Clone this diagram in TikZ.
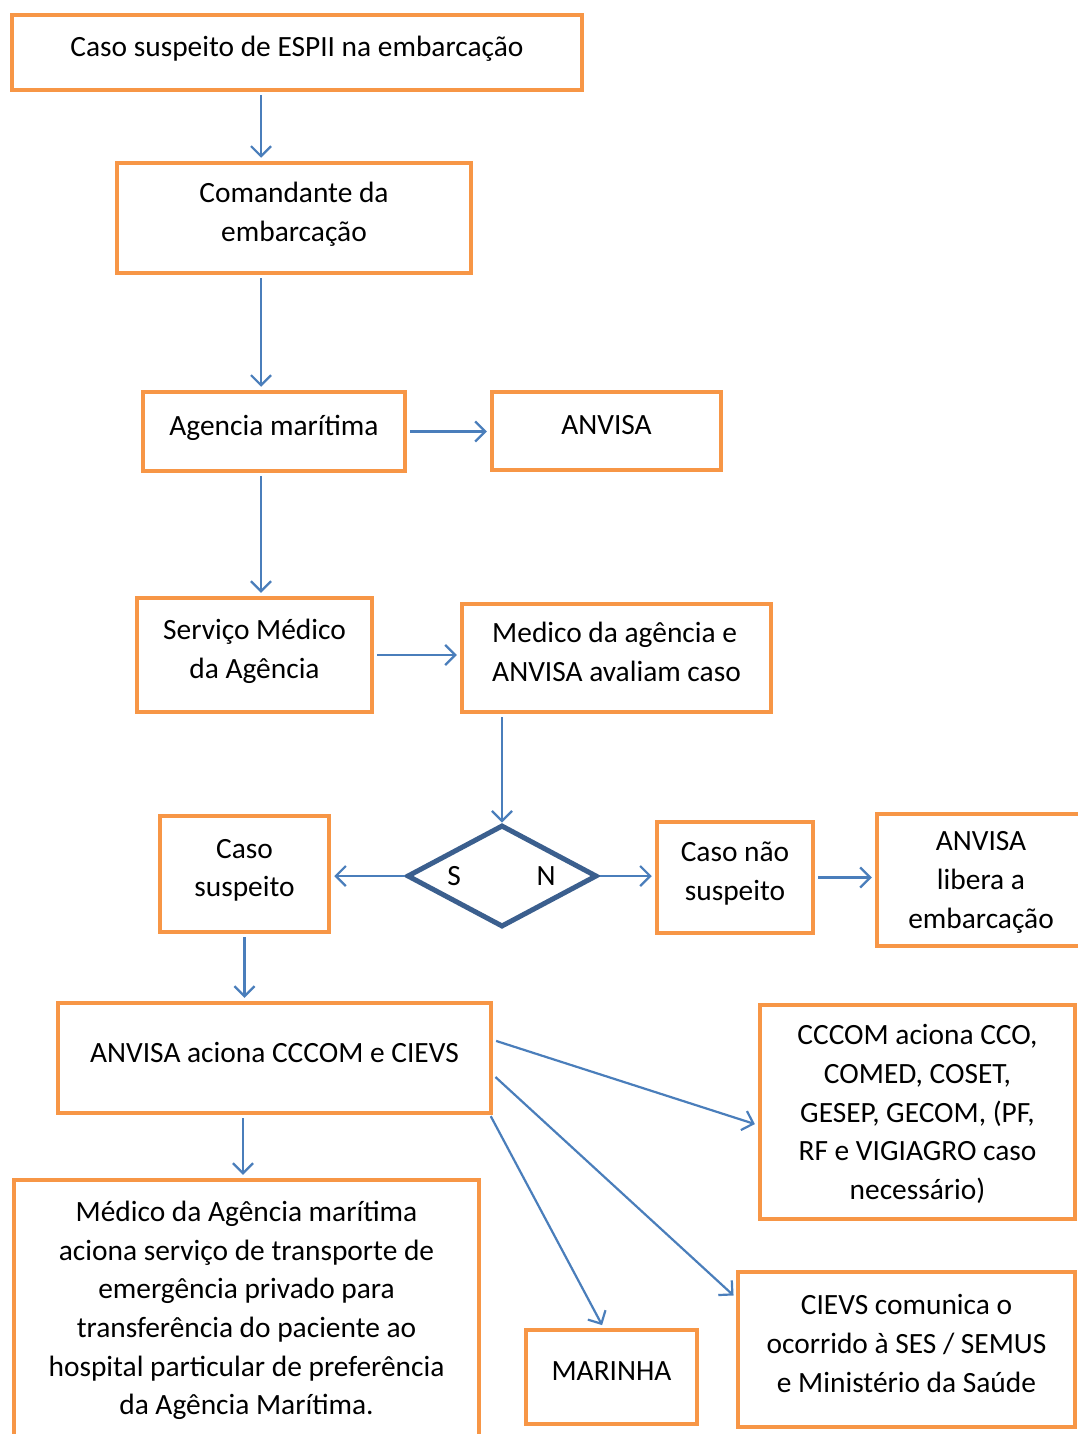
\documentclass[tikz,border=0pt]{standalone}
\usepackage{fontspec}
\setmainfont{Carlito}
\usepackage{xcolor}
\usetikzlibrary{shapes.geometric,arrows.meta}

\definecolor{boxorange}{HTML}{F79646}
\definecolor{arrowblue}{HTML}{4A7EBB}
\definecolor{decblue}{HTML}{3B5F8E}

\tikzset{
  flowbox/.style={draw=boxorange, line width=4.5pt, align=center, inner sep=0pt,
    text depth=12pt, font=\fontsize{29.4}{38.7}\selectfont},
  flowarrow/.style={draw=arrowblue, line width=2.2pt,
    -{Straight Barb[length=10pt,width=20pt]}, shorten <=3pt, shorten >=3pt}
}

\begin{document}
\begin{tikzpicture}[x=1pt, y=-1pt]
  \useasboundingbox (0,0) rectangle (1077,1434);

  % the main column of boxes
  \node [flowbox, minimum width=570pt, minimum height=75pt] (caso) at (297,52.5)
    {Caso suspeito de ESPII na embarcação};
  \node [flowbox, minimum width=354pt, minimum height=110pt] (comandante) at (294,218)
    {Comandante da\\embarcação};
  \node [flowbox, minimum width=262pt, minimum height=79pt] (agencia) at (274,431.5)
    {Agencia marítima};
  \node [flowbox, minimum width=229pt, minimum height=78pt] (anvisa) at (606.5,431)
    {ANVISA};
  \node [flowbox, minimum width=235pt, minimum height=114pt] (servico) at (254.5,655)
    {Serviço Médico\\da Agência};
  \node [flowbox, align=left, minimum width=309pt, minimum height=108pt] (avaliam) at (616.5,658)
    {Medico da agência e\\ANVISA avaliam caso};

  % the decision and its two branches
  \node [diamond, draw=decblue, line width=5pt, inner sep=0pt,
    minimum width=190pt, minimum height=102pt] (decisao) at (502,876) {};
  \node [font=\fontsize{29.4}{38.7}\selectfont] (sim) at (454,876) {S};
  \node [font=\fontsize{29.4}{38.7}\selectfont] (nao) at (546,876) {N};
  \node [flowbox, minimum width=169pt, minimum height=116pt] (suspeito) at (244.5,874)
    {Caso\\suspeito};
  \node [flowbox, minimum width=156pt, minimum height=111pt] (naosuspeito) at (735,877.5)
    {Caso não\\suspeito};
  \node [flowbox, text depth=0pt, minimum width=208pt, minimum height=132pt] (libera) at (981,880)
    {ANVISA\\libera a\\embarcação};

  % what ANVISA sets in motion
  \node [flowbox, minimum width=433pt, minimum height=110pt] (aciona) at (274.5,1058)
    {ANVISA aciona CCCOM e CIEVS};
  \node [flowbox, text depth=0pt, minimum width=315pt, minimum height=214pt] (cccom) at (917.5,1112)
    {CCCOM aciona CCO,\\COMED, COSET,\\GESEP, GECOM, (PF,\\RF e VIGIAGRO caso\\necessário)};
  \node [flowbox, text depth=0pt, minimum width=465pt, minimum height=256pt] (transporte) at (246.5,1308)
    {Médico da Agência marítima\\aciona serviço de transporte de\\emergência privado para\\transferência do paciente ao\\hospital particular de preferência\\da Agência Marítima.};
  \node [flowbox, minimum width=171pt, minimum height=94pt] (marinha) at (611.5,1377)
    {MARINHA};
  \node [flowbox, minimum width=337pt, minimum height=155pt] (cievs) at (906.5,1349.5)
    {CIEVS comunica o\\ocorrido à SES / SEMUS\\e Ministério da Saúde};

  % arrows
  \coordinate (spine) at (261,0);
  \coordinate (drop) at (243,0);
  \draw [flowarrow] (caso.south -| spine) -- (comandante.north -| spine);
  \draw [flowarrow] (comandante.south -| spine) -- (agencia.north -| spine);
  \draw [flowarrow] (agencia.east) -- (anvisa.west |- agencia.east);
  \draw [flowarrow] (agencia.south -| spine) -- (servico.north -| spine);
  \draw [flowarrow] (servico.east) -- (avaliam.west |- servico.east);
  \draw [flowarrow, shorten >=0pt] (avaliam.south -| decisao) -- (decisao.north);
  \draw [flowarrow, shorten <=0pt] (decisao.west) -- (suspeito.east |- decisao.west);
  \draw [flowarrow, shorten <=0pt] (decisao.east) -- (naosuspeito.west |- decisao.east);
  \draw [flowarrow] (naosuspeito.east) -- (libera.west |- naosuspeito.east);
  \draw [flowarrow] (suspeito.south) -- (aciona.north -| suspeito.south);
  \draw [flowarrow] (aciona.south -| drop) -- (transporte.north -| drop);
  \draw [flowarrow] ([yshift=18pt]aciona.east) -- ([yshift=-13pt]cccom.west);
  \draw [flowarrow] ([yshift=-17pt]aciona.east) -- ([yshift=52pt]cievs.west);
  \draw [flowarrow, shorten <=1pt] ([xshift=-3pt]aciona.south east) -- ([xshift=-8pt]marinha.north);
\end{tikzpicture}
\end{document}
